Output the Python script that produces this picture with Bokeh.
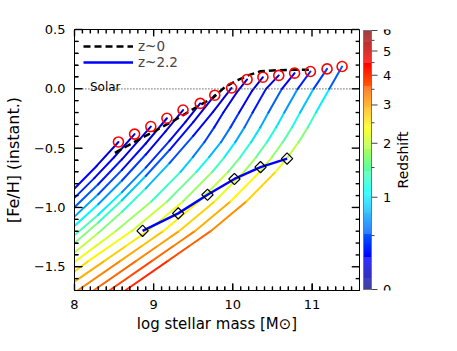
import math
from bokeh.plotting import figure
from bokeh.layouts import row
from bokeh.models import (ColumnDataSource, SingleIntervalTicker, CustomJSTickFormatter,
                          Label, Legend, LegendItem)
from bokeh.core.properties import value
from bokeh.embed import file_html
from bokeh.resources import INLINE

FONT = "DejaVu Sans"

# ---------------- data ----------------
# z=0 end points of the model tracks (red circles)
circ_x = [8.555, 8.759, 8.964, 9.167, 9.371, 9.588, 9.772, 9.984, 10.18, 10.38,
          10.58, 10.78, 10.98, 11.19, 11.38]
circ_y = [-0.448, -0.382, -0.318, -0.248, -0.179, -0.123, -0.054, 0.007, 0.079, 0.098,
          0.113, 0.132, 0.146, 0.168, 0.188]

# evolutionary tracks (nodes before the end point) and redshift at each node (+ end)
track_x = [
    [8.0, 8.28],
    [8.0, 8.25, 8.5],
    [8.0, 8.3, 8.6],
    [8.0, 8.3, 8.6, 8.9],
    [8.0, 8.3, 8.6, 8.9, 9.15],
    [8.0, 8.3, 8.6, 8.9, 9.2, 9.4],
    [8.0, 8.3, 8.6, 8.9, 9.2, 9.5],
    [8.0, 8.3, 8.6, 8.9, 9.2, 9.5, 9.75],
    [8.0, 8.26, 8.52, 8.97, 9.34, 9.495, 9.64, 9.765, 9.88, 10.05],
    [8.0, 8.18, 8.45, 8.72, 9.17, 9.54, 9.70, 9.85, 9.97, 10.08, 10.24],
    [8.0, 8.38, 8.65, 8.92, 9.37, 9.74, 9.895, 10.03, 10.147, 10.25, 10.42],
    [8.04, 8.58, 8.85, 9.12, 9.57, 9.94, 10.095, 10.23, 10.347, 10.45, 10.62],
    [8.24, 8.78, 9.05, 9.32, 9.77, 10.14, 10.295, 10.43, 10.547, 10.65, 10.82],
    [8.44, 8.98, 9.25, 9.52, 9.97, 10.34, 10.495, 10.63, 10.747, 10.85, 11.02],
    [8.64, 9.18, 9.45, 9.72, 10.17, 10.54, 10.695, 10.83, 10.947, 11.05, 11.22],
]
track_y = [
    [-0.84, -0.65],
    [-0.919, -0.753, -0.577],
    [-0.998, -0.804, -0.594],
    [-1.077, -0.889, -0.683, -0.461],
    [-1.156, -0.973, -0.773, -0.554, -0.359],
    [-1.235, -1.062, -0.871, -0.664, -0.439, -0.28],
    [-1.30, -1.127, -0.939, -0.735, -0.516, -0.281],
    [-1.38, -1.216, -1.036, -0.839, -0.626, -0.397, -0.194],
    [-1.46, -1.33, -1.2, -0.95, -0.7, -0.575, -0.45, -0.325, -0.2, -0.03],
    [-1.54, -1.45, -1.325, -1.2, -0.95, -0.7, -0.575, -0.45, -0.325, -0.2, -0.02],
    [-1.626, -1.45, -1.325, -1.2, -0.95, -0.7, -0.575, -0.45, -0.325, -0.2, 0.0],
    [-1.70, -1.45, -1.325, -1.2, -0.95, -0.7, -0.575, -0.45, -0.325, -0.2, 0.0],
    [-1.70, -1.45, -1.325, -1.2, -0.95, -0.7, -0.575, -0.45, -0.325, -0.2, 0.0],
    [-1.70, -1.45, -1.325, -1.2, -0.95, -0.7, -0.575, -0.45, -0.325, -0.2, 0.0],
    [-1.70, -1.45, -1.325, -1.2, -0.95, -0.7, -0.575, -0.45, -0.325, -0.2, 0.0],
]
track_z = [
    [0.33, 0.23, 0.15],
    [0.43, 0.32, 0.23, 0.15],
    [0.64, 0.38, 0.27, 0.15],
    [0.92, 0.59, 0.35, 0.23, 0.15],
    [1.22, 0.87, 0.52, 0.32, 0.2, 0.15],
    [1.56, 1.21, 0.83, 0.47, 0.3, 0.2, 0.15],
    [1.85, 1.48, 1.08, 0.67, 0.36, 0.23, 0.15],
    [2.09, 1.87, 1.47, 1.04, 0.61, 0.34, 0.22, 0.15],
    [2.36, 2.18, 2.02, 1.58, 1.01, 0.75, 0.49, 0.37, 0.26, 0.2, 0.15],
    [2.68, 2.52, 2.36, 2.21, 1.85, 1.25, 0.96, 0.67, 0.5, 0.32, 0.2, 0.15],
    [3.07, 2.79, 2.59, 2.42, 2.03, 1.5, 1.18, 0.86, 0.64, 0.42, 0.25, 0.15],
    [3.45, 3.06, 2.86, 2.66, 2.22, 1.77, 1.42, 1.08, 0.86, 0.65, 0.40, 0.15],
    [3.69, 3.33, 3.13, 2.93, 2.43, 1.98, 1.65, 1.32, 1.08, 0.85, 0.55, 0.15],
    [3.99, 3.58, 3.4, 3.2, 2.68, 2.16, 1.87, 1.58, 1.29, 1.0, 0.70, 0.15],
    [4.35, 3.82, 3.64, 3.46, 2.95, 2.37, 2.11, 1.85, 1.5, 1.15, 0.90, 0.15],
]

# observed relations
z0_x = [8.51, 8.75, 9.0, 9.25, 9.5, 9.75, 9.9, 10.05, 10.2, 10.35, 10.5, 10.75, 10.97]
z0_y = [-0.54, -0.45, -0.36, -0.27, -0.17, -0.075, 0.015, 0.07, 0.115, 0.148, 0.155, 0.16, 0.16]
z22_x = [8.86, 9.31, 9.68, 10.02, 10.35, 10.685]
z22_y = [-1.197, -1.05, -0.893, -0.76, -0.66, -0.588]

solar_x = [8.1, 11.5]
solar_y = [0.0, 0.0]

x_major = [8, 9, 10, 11]
y_major = [-1.5, -1.0, -0.5, 0.0, 0.5]
cb_ticks = [0, 1, 2, 3, 4, 5, 6]
cb_minor = [0.5, 1.5, 2.5, 3.5, 4.5, 5.5]
ZMAX = 6.0

X0, X1 = 8.0, 11.6
Y0, Y1 = -1.7, 0.5
FRAME_W, FRAME_H = 294, 263


def t_of(z):
    return math.log10(1.0 + z) / math.log10(1.0 + ZMAX)


def jet(t):
    t = min(max(t, 0.0), 1.0)

    def c(v):
        return int(round(255 * min(max(v, 0.0), 1.0)))
    r = c(1.5 - abs(4 * t - 3))
    g = c(1.5 - abs(4 * t - 2))
    b = c(1.5 - abs(4 * t - 1))
    return "#%02x%02x%02x" % (r, g, b)


palette = [jet(i / 255.0) for i in range(256)]

TOP, BOTTOM = 29, 43

# ---------------- main figure ----------------
p = figure(width=362, height=335, x_range=(X0, X1), y_range=(Y0, Y1),
           output_backend="svg", toolbar_location=None,
           min_border_left=65, min_border_right=3, min_border_top=TOP,
           min_border_bottom=BOTTOM)
p.xgrid.visible = False
p.ygrid.visible = False
p.outline_line_color = "black"
p.outline_line_width = 1
p.background_fill_color = "white"
p.border_fill_color = "white"

# tracks as coloured segments
seg = dict(x0=[], y0=[], x1=[], y1=[], color=[])
for xs, ys, zs, cx, cy in zip(track_x, track_y, track_z, circ_x, circ_y):
    X = xs + [cx]
    Y = ys + [cy]
    for j in range(len(X) - 1):
        seg["x0"].append(X[j])
        seg["y0"].append(Y[j])
        seg["x1"].append(X[j + 1])
        seg["y1"].append(Y[j + 1])
        seg["color"].append(jet(t_of(0.5 * (zs[j] + zs[j + 1]))))
p.segment("x0", "y0", "x1", "y1", source=ColumnDataSource(seg), line_color="color",
          line_width=2, line_cap="round")

# solar reference
p.line(solar_x, solar_y, line_color="#444444", line_width=1.2, line_dash="1 2")
p.add_layout(Label(x=8.195, y=0.012, text="Solar", text_font=FONT, text_font_size="12px",
                   text_color="black", text_baseline="alphabetic", text_align="left"))

# z~0 relation
r_z0 = p.line(z0_x, z0_y, line_color="black", line_width=2.5, line_dash="7 4")
# z=0 model points
p.scatter(circ_x, circ_y, marker="circle", size=10, fill_color=None, line_color="red",
          line_width=1.6)
# z~2.2 relation
r_z22 = p.line(z22_x, z22_y, line_color="#0000ff", line_width=2.5)
p.scatter(z22_x, z22_y, marker="square", angle=math.pi / 4, size=8, fill_color=None,
          line_color="black", line_width=1.2)

legend = Legend(items=[LegendItem(label="z~0", renderers=[r_z0]),
                       LegendItem(label="z~2.2", renderers=[r_z22])],
                location="top_left", border_line_color=None, background_fill_alpha=0,
                glyph_width=50, glyph_height=16, label_height=16, spacing=0,
                label_standoff=5, padding=11, margin=9,
                label_text_font=FONT, label_text_font_size="13.5px")
p.add_layout(legend)

# inward ticks on all four sides, drawn as short segments
dxp = (X1 - X0) / FRAME_W
dyp = (Y1 - Y0) / FRAME_H
x_minor = [round(X0 + 0.1 * i, 1) for i in range(1, 36) if i % 10 != 0]
y_minor = [round(Y0 + 0.1 * i, 1) for i in range(1, 22) if (i + 3) % 5 != 0]
tk = dict(x0=[], y0=[], x1=[], y1=[])


def add_tick(a, b, c, d):
    tk["x0"].append(a)
    tk["y0"].append(b)
    tk["x1"].append(c)
    tk["y1"].append(d)


for xs_, L in ((x_major, 7), (x_minor, 4)):
    for xv in xs_:
        add_tick(xv, Y0 + 0.5 * dyp, xv, Y0 + L * dyp)
        add_tick(xv, Y1 - 0.5 * dyp, xv, Y1 - L * dyp)
for ys_, L in ((y_major, 8), (y_minor, 4)):
    for yv in ys_:
        add_tick(X0 + 0.5 * dxp, yv, X0 + L * dxp, yv)
        add_tick(X1 - 0.5 * dxp, yv, X1 - L * dxp, yv)
p.segment("x0", "y0", "x1", "y1", source=ColumnDataSource(tk), line_color="#000000",
          line_width=1.4, level="overlay")

# axes (labels, plus inward ticks on bottom/left)
xa = p.xaxis[0]
xa.ticker = SingleIntervalTicker(interval=1, num_minor_ticks=10)
ya = p.yaxis[0]
ya.ticker = SingleIntervalTicker(interval=0.5, num_minor_ticks=5)
for ax in (xa, ya):
    ax.major_tick_out = 0
    ax.minor_tick_in = 4
    ax.minor_tick_out = 0
    ax.major_tick_line_color = "black"
    ax.minor_tick_line_color = "black"
    ax.axis_line_color = "black"
    ax.major_label_text_font = FONT
    ax.major_label_text_font_size = "13px"
    ax.major_label_text_color = "black"
    ax.major_label_standoff = 9
    ax.axis_label_text_font = FONT
    ax.axis_label_text_font_style = "normal"
    ax.axis_label_text_color = "black"
xa.major_tick_in = 7
ya.major_tick_in = 8
xa.axis_label = "log stellar mass [M\u2299]"
xa.axis_label_text_font_size = "15px"
xa.axis_label_standoff = 3
ya.formatter = CustomJSTickFormatter(
    code="return (tick < -1e-9 ? '\u2212' : '') + Math.abs(tick).toFixed(1);")
ya.axis_label = "[Fe/H] (instant.)"
ya.axis_label_text_font_size = "16px"
ya.axis_label_standoff = 8

# ---------------- colour bar (log(1+z) scale) as its own panel ----------------
H = math.log10(1 + ZMAX)
pad = H / FRAME_H
cbf = figure(width=79, height=335, x_range=(-1, 78), y_range=(-pad, H + pad),
             output_backend="svg", toolbar_location=None,
             x_axis_location=None, y_axis_location=None,
             min_border_left=0, min_border_right=0, min_border_top=TOP - 1,
             min_border_bottom=BOTTOM - 1)
cbf.outline_line_color = None
cbf.grid.visible = False
cbf.background_fill_color = "white"
cbf.border_fill_color = "white"

n = len(palette)
cbf.quad(left=[0] * n, right=[8] * n, bottom=[H * i / n for i in range(n)],
         top=[H * (i + 1) / n for i in range(n)], fill_color=palette, line_color=None)
cbf.quad(left=[0], right=[8], bottom=[0], top=[H], fill_color=None, line_color="#777777",
         line_width=1)
maj = [math.log10(1 + z) for z in cb_ticks]
mnr = [math.log10(1 + z) for z in cb_minor]
cbf.segment(x0=[8] * len(maj), y0=maj, x1=[14] * len(maj), y1=maj, line_color="#444444",
            line_width=1)
cbf.segment(x0=[8] * len(mnr), y0=mnr, x1=[11] * len(mnr), y1=mnr, line_color="#444444",
            line_width=1)
cbf.text(x=[19.5] * len(maj), y=maj, text=[str(z) for z in cb_ticks],
         text_font=value(FONT), text_font_size="13px", text_color="black",
         text_align="left", text_baseline="middle")
cbf.text(x=[39.5], y=[H / 2], text=["Redshift"], angle=math.pi / 2,
         text_font=value(FONT), text_font_size="14px", text_color="black",
         text_align="center", text_baseline="middle")

layout = row(p, cbf, spacing=0)
open("out.html", "w").write(file_html(layout, INLINE))
